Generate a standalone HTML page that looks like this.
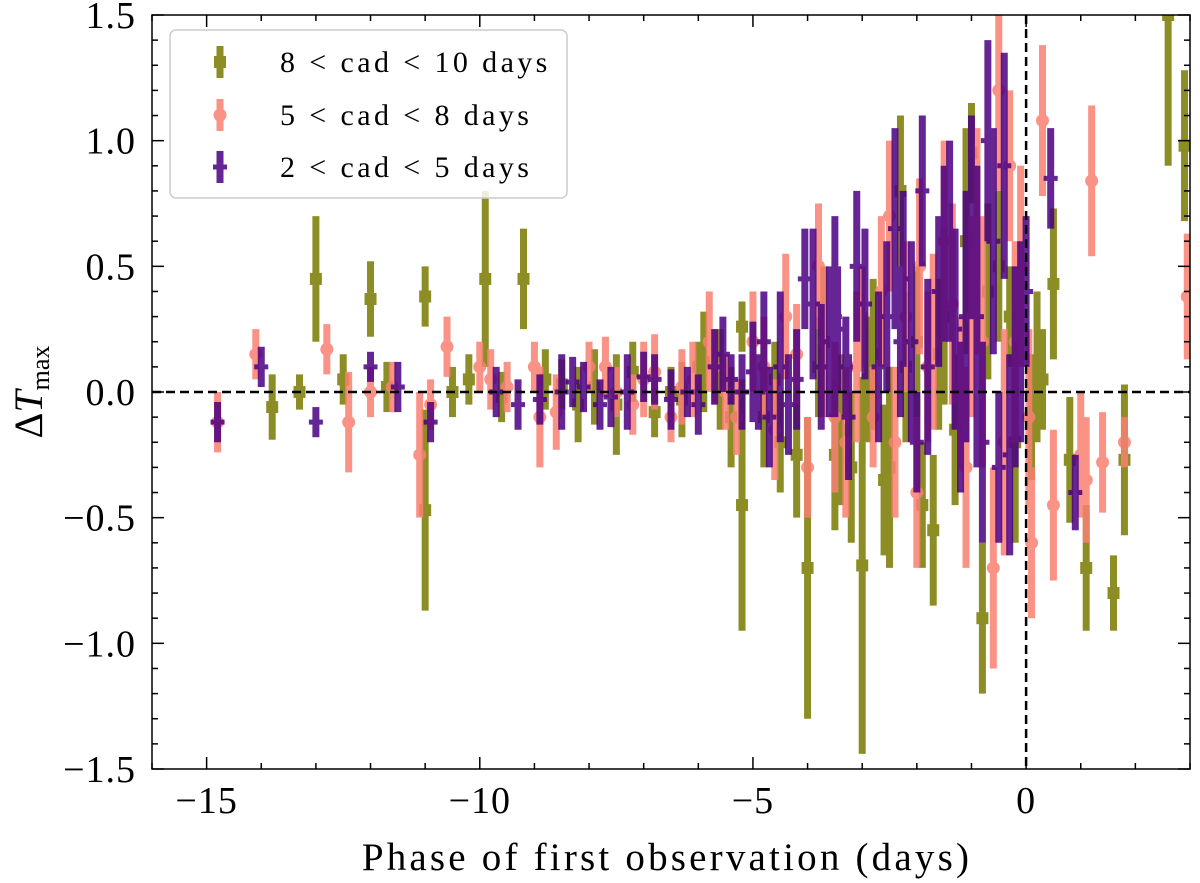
<!DOCTYPE html>
<html><head><meta charset="utf-8">
<style>
html,body{margin:0;padding:0;background:#fff;}
svg{display:block;font-family:"Liberation Serif","DejaVu Serif",serif;}
</style></head>
<body>
<svg id="chart" width="1200" height="883" viewBox="0 0 1200 883" xmlns="http://www.w3.org/2000/svg"></svg>
<script>
// ---- data ----
const olX=[-13,-12,-11,-11,-13.8,-9.9,-9.2,-5.2,-5.2,-4,-3,-3.2,-2.3,-1.7,-0.8,0.5,0.8,1.1,1.8,2.6,2.9,-13.3,-12.5,-10.5,-8.5,-7.5,-6.5,-6,-4.5,-3.8,-2.5,-2,-1.3,-1,-0.3,0.3,1.6,-7.9,-6.8,-5.6,-4.8,-3.5,-2.8,-1.5,-0.5,0.1,
  -9.6,-8.8,-8.2,-7.2,-6.3,-5.9,-5.4,-4.6,-4.2,-3.7,-3.4,-2.9,-2.6,-2.2,-1.9,-1.6,-1.1,-0.7,-0.2,0.2,-10.2,-11.7];
const olY=[0.45,0.37,0.38,-0.47,-0.06,0.45,0.45,-0.45,0.26,-0.7,-0.69,-0.3,0.8,-0.55,-0.9,0.43,-0.27,-0.7,-0.27,1.5,0.98,0,0.05,0,0.03,-0.05,0,0.1,-0.2,0.1,-0.3,0.2,-0.15,0.95,0.3,0.05,-0.8,0.02,-0.08,0.05,-0.1,-0.25,0.15,0.3,0.5,-0.1,
  -0.02,0.05,-0.05,0.08,-0.03,0.12,-0.1,0.05,-0.25,0.2,-0.15,0.05,-0.35,0.1,-0.45,0.15,0.6,0.4,-0.2,0.1,0.05,0.02];
const olE=[0.25,0.15,0.12,0.4,0.13,0.35,0.2,0.5,0.1,0.6,0.75,0.3,0.3,0.3,0.3,0.3,0.25,0.25,0.3,0.6,0.3,0.07,0.1,0.1,0.1,0.2,0.1,0.1,0.2,0.2,0.4,0.3,0.3,0.2,0.2,0.2,0.15,0.15,0.1,0.2,0.2,0.3,0.3,0.35,0.3,0.25,
  0.1,0.12,0.15,0.12,0.15,0.2,0.2,0.15,0.25,0.3,0.3,0.25,0.3,0.3,0.25,0.3,0.45,0.35,0.4,0.3,0.1,0.1];
const saX=[-14.8,-14.1,-12.8,-12.4,-11.1,-10.6,-10,-9.5,-8.9,-8,-7,-6.5,-5.8,-5.5,-4.8,-4.2,-3.5,-3,-2.5,-2.2,-1.8,-1.5,-1.0,-0.6,-0.5,-0.2,0.1,0.3,1.0,1.2,1.4,1.8,2.95,-7.5,-9,-12,-4,-2.8,-1.2,-0.3,-6.1,-3.8,-2.0,-0.8,
  -11.6,-10.9,-9.8,-8.6,-7.7,-7.2,-6.8,-6.3,-5.7,-5.3,-5.0,-4.6,-4.4,-3.7,-3.3,-3.1,-2.65,-2.4,-1.95,-1.7,-1.35,-1.1,-0.9,-0.4,-0.1,0.05,0.5,1.1];
const saY=[-0.12,0.15,0.17,-0.12,-0.25,0.18,0.1,0.02,-0.1,0.1,0.05,-0.1,0.2,0,0.1,0.15,-0.1,0.3,0.7,0.3,0.1,0.6,0.3,-0.7,1.2,0.2,-0.6,1.08,-0.25,0.84,-0.28,-0.2,0.38,0,0.1,0,-0.3,-0.1,0,0.9,0.05,0.5,-0.4,0.2,
  0.02,-0.05,0.05,-0.08,0.1,-0.05,0.08,0.02,0.1,-0.1,0.2,-0.15,0.3,0.2,-0.2,0.1,0.4,-0.2,0.5,0.2,0.35,-0.3,0.6,-0.2,0.5,-0.1,-0.45,-0.35];
const saE=[0.12,0.1,0.1,0.2,0.25,0.12,0.1,0.1,0.2,0.1,0.15,0.1,0.2,0.15,0.2,0.2,0.3,0.2,0.3,0.3,0.3,0.4,0.4,0.4,0.4,0.4,0.3,0.3,0.25,0.3,0.2,0.1,0.25,0.1,0.1,0.1,0.2,0.2,0.3,0.3,0.15,0.25,0.3,0.5,
  0.1,0.1,0.12,0.15,0.12,0.12,0.15,0.15,0.15,0.15,0.2,0.2,0.25,0.3,0.3,0.3,0.3,0.3,0.35,0.35,0.4,0.4,0.45,0.45,0.4,0.35,0.3,0.25];
const inX=[-14.8,-14,-13,-12,-11.5,-10.9,-9.7,-9.3,-8.5,-7.8,-7.3,-6.8,-6.2,-5.7,-5.4,-4.9,-4.5,-4.2,-3.9,-3.6,-3.3,-3.1,-2.7,-2.4,-2.1,-1.9,-1.6,-1.4,-1.1,-0.9,-0.7,-0.5,-0.3,-0.1,0.45,0.9,-2.0,-1.2,-4.7,-8.1,-6.5,-5.0,-3.5,-2.3,
  -8.9,-8.3,-7.6,-7.0,-6.0,-5.55,-5.2,-4.8,-4.35,-4.05,-3.75,-3.45,-3.25,-2.95,-2.55,-2.25,-1.8,-1.5,-1.3,-1.0,-0.8,-0.6,-0.4,-0.2,0.0];
const inY=[-0.12,0.1,-0.12,0.1,0.02,-0.12,0,-0.05,0,-0.05,0,0.05,0,0.1,0.05,0,0.1,0.05,0.35,0.2,0.1,0.5,0.1,0.65,0.2,0.8,0.4,0.6,0.3,0.3,1.0,-0.3,-0.25,0.2,0.85,-0.4,-0.2,-0.1,-0.1,0.02,-0.03,0.08,0.3,0.2,
  -0.03,0.04,-0.02,0.06,-0.05,0.15,0.0,0.2,-0.05,0.45,0.1,0.25,-0.1,0.35,0.3,0.45,0.1,0.55,0.25,0.7,-0.2,0.6,0.9,0.1,0.4];
const inE=[0.08,0.08,0.06,0.06,0.1,0.08,0.1,0.1,0.15,0.1,0.15,0.1,0.1,0.15,0.1,0.15,0.3,0.2,0.3,0.3,0.2,0.3,0.3,0.4,0.4,0.3,0.3,0.4,0.5,0.6,0.4,0.3,0.4,0.4,0.2,0.15,0.2,0.3,0.2,0.1,0.12,0.2,0.4,0.3,
  0.1,0.1,0.12,0.1,0.12,0.15,0.15,0.2,0.2,0.2,0.25,0.25,0.25,0.3,0.3,0.35,0.35,0.35,0.4,0.4,0.4,0.45,0.45,0.4,0.3];
const xTicks=[-15,-10,-5,0];
const xTickLabels=["\u221215","\u221210","\u22125","0"];
const yTicks=[-1.5,-1.0,-0.5,0.0,0.5,1.0,1.5];
const yTickLabels=["\u22121.5","\u22121.0","\u22120.5","0.0","0.5","1.0","1.5"];

const L=152,R=1190,T=15,B=769,xmin=-16,xmax=3,ymin=-1.5,ymax=1.5;
const sx=v=>L+(v-xmin)/(xmax-xmin)*(R-L);
const sy=v=>B-(v-ymin)/(ymax-ymin)*(B-T);
const svg=document.getElementById('chart');
const NS='http://www.w3.org/2000/svg';
function mk(tag,attrs,parent){const e=document.createElementNS(NS,tag);for(const k in attrs)e.setAttribute(k,attrs[k]);(parent||svg).appendChild(e);return e;}

const clip=mk('clipPath',{id:'pc'});mk('rect',{x:L,y:T,width:R-L,height:B-T},clip);
const plot=mk('g',{'clip-path':'url(#pc)'});



function marker(kind,cx,cy,col,g){
  let m;
  if(kind==='s'){m=mk('rect',{x:cx-6,y:cy-6,width:12,height:12,fill:col},g);}
  else if(kind==='o'){m=mk('circle',{cx:cx,cy:cy,r:6.5,fill:col},g);}
  else{m=mk('path',{d:`M${cx-7} ${cy-2.5}h4.5v-4.5h5v4.5h4.5v5h-4.5v4.5h-5v-4.5h-4.5z`,fill:col},g);}
  return m;
}
function series(xs,ys,es,col,kind,name){
  const g=mk('g',{opacity:0.85},plot);
  
  
  for(let i=0;i<xs.length;i++){
    const cx=sx(xs[i]),cy=sy(ys[i]);
    const l=mk('line',{x1:cx,x2:cx,y1:sy(ys[i]-es[i]),y2:sy(ys[i]+es[i]),stroke:col,'stroke-width':7},g);
    
    
    const m=marker(kind,cx,cy,col,g);
    
    
  }
}
series(olX,olY,olE,'#7a7a00','s','series-8-10-days');
series(saX,saY,saE,'#fa8072','o','series-5-8-days');
series(inX,inY,inE,'#4b0082','p','series-2-5-days');

const h=mk('line',{x1:L,x2:R,y1:sy(0),y2:sy(0),stroke:'#000','stroke-width':2.5,'stroke-dasharray':'9,5'});

const v=mk('line',{x1:sx(0),x2:sx(0),y1:T,y2:B,stroke:'#000','stroke-width':2.5,'stroke-dasharray':'9,5'});


const ax=mk('g',{stroke:'#000','stroke-width':1.5});

for(let t=-16;t<=3;t++){const x=sx(t);const len=xTicks.includes(t)?12:6;
  mk('line',{x1:x,x2:x,y1:B,y2:B-len},ax);mk('line',{x1:x,x2:x,y1:T,y2:T+len},ax);}
for(let k=-15;k<=15;k++){const t=k/10;const y=sy(t);const major=(k%5===0);const len=major?12:6;
  mk('line',{x1:L,x2:L+len,y1:y,y2:y},ax);mk('line',{x1:R,x2:R-len,y1:y,y2:y},ax);}
const fr=mk('rect',{x:L,y:T,width:R-L,height:B-T,fill:'none',stroke:'#000','stroke-width':1.5});


xTicks.forEach((t,i)=>{const e=mk('text',{x:sx(t),y:B+44,'text-anchor':'middle','font-size':38,'letter-spacing':1});e.textContent=xTickLabels[i];
  });
yTicks.forEach((t,i)=>{const e=mk('text',{x:L-16,y:sy(t)+13,'text-anchor':'end','font-size':38,'letter-spacing':1});e.textContent=yTickLabels[i];
  });

const xl=mk('text',{x:(L+R)/2-4,y:870,'text-anchor':'middle','font-size':39,'letter-spacing':3.2});xl.textContent='Phase of first observation (days)';

const yl=mk('text',{transform:'translate(42,392) rotate(-90)','text-anchor':'middle','font-size':40});
yl.innerHTML='\u0394<tspan font-style="italic">T</tspan><tspan font-size="26" dy="7">max</tspan>';


const lg=mk('g',{});

mk('rect',{x:170,y:30,width:397,height:168,rx:6,fill:'#fff','fill-opacity':0.85,stroke:'#ccc','stroke-width':1.5},lg);
const ent=[['#7a7a00','s','8 < cad < 10 days',62],['#fa8072','o','5 < cad < 8 days',115],['#4b0082','p','2 < cad < 5 days',167]];
ent.forEach(e=>{const g=mk('g',{opacity:0.85},lg);
  
  mk('line',{x1:220,x2:220,y1:e[3]-16,y2:e[3]+16,stroke:e[0],'stroke-width':7},g);
  marker(e[1],220,e[3],e[0],g);
  const t=mk('text',{x:280,y:e[3]+10,'font-size':30,'letter-spacing':3.4},lg);t.textContent=e[2];
  });
</script>
</body></html>
